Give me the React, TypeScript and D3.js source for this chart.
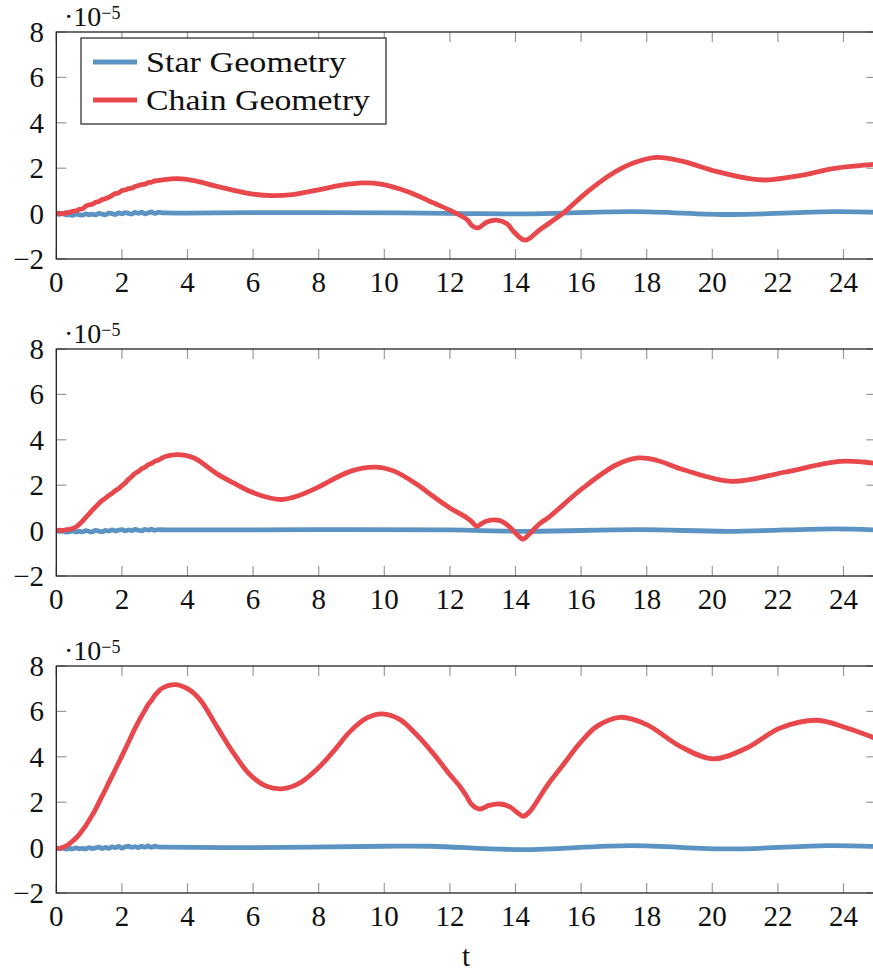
import React from "react";
import * as d3 from "d3";

// ---------- data (values in units of 1e-5) ----------
const xTicks = [0, 2, 4, 6, 8, 10, 12, 14, 16, 18, 20, 22, 24];
const yTicks = [-2, 0, 2, 4, 6, 8];
const seriesNames = ["Star Geometry", "Chain Geometry"];

// Panel 1
const star1: [number, number][] = [
  [0, 0], [0.1, -0.03], [0.2, 0.01], [0.3, -0.06], [0.4, -0.04], [0.5, -0.08], [0.6, -0.02], [0.7, -0.05],
  [0.8, -0.07], [0.9, -0.01], [1.0, -0.05], [1.1, -0.02], [1.2, -0.06], [1.3, 0.01], [1.4, -0.03], [1.5, -0.05],
  [1.6, 0.02], [1.7, 0.0], [1.8, -0.04], [1.9, 0.03], [2.0, -0.01], [2.1, 0.04], [2.2, 0.01], [2.3, -0.02],
  [2.4, 0.05], [2.5, 0.01], [2.6, 0.06], [2.7, -0.01], [2.8, 0.03], [2.9, 0.07], [3.0, 0.01], [3.1, 0.05],
  [3.3, 0.03], [6.0, 0.04], [10.5, 0.03], [12.5, 0.0], [14.3, -0.01], [17.6, 0.09], [20.6, -0.04],
  [23.7, 0.09], [25, 0.06],
];
const chain1: [number, number][] = [
  [0, 0], [0.1, 0.02], [0.2, -0.01], [0.3, 0.04], [0.4, 0.05], [0.5, 0.1], [0.6, 0.12], [0.7, 0.19],
  [0.8, 0.21], [0.9, 0.33], [1.0, 0.39], [1.1, 0.41], [1.2, 0.5], [1.3, 0.53], [1.4, 0.62], [1.5, 0.66],
  [1.6, 0.72], [1.7, 0.8], [1.8, 0.88], [1.9, 0.91], [2.0, 1.02], [2.1, 1.04], [2.2, 1.1], [2.3, 1.12],
  [2.4, 1.19], [2.5, 1.24], [2.6, 1.28], [2.7, 1.3], [2.8, 1.37], [2.9, 1.38], [3.0, 1.44], [3.1, 1.45],
  [3.3, 1.5], [3.7, 1.54], [4.2, 1.45], [4.9, 1.2], [5.9, 0.88], [6.6, 0.79], [7.2, 0.84], [7.94, 1.03],
  [8.7, 1.25], [9.36, 1.35], [9.9, 1.3], [10.48, 1.08], [11.0, 0.8], [11.5, 0.47], [12.0, 0.15],
  [12.52, -0.26], [12.67, -0.53], [12.87, -0.63], [13.12, -0.38], [13.43, -0.29], [13.73, -0.44],
  [13.98, -0.85], [14.29, -1.17], [14.75, -0.7], [15.1, -0.35], [15.46, 0.03], [16.17, 0.94],
  [16.98, 1.79], [17.59, 2.23], [18.3, 2.48], [19.1, 2.3], [20.12, 1.86], [21.13, 1.54], [21.64, 1.48],
  [22.66, 1.67], [23.68, 1.98], [24.4, 2.1], [25, 2.18],
];

// Panel 2
const star2: [number, number][] = [
  [0, 0], [0.1, -0.04], [0.2, -0.02], [0.3, -0.07], [0.4, -0.05], [0.5, -0.02], [0.6, -0.06], [0.7, -0.03],
  [0.8, -0.06], [0.9, 0.0], [1.0, -0.04], [1.1, -0.05], [1.2, 0.01], [1.3, -0.03], [1.4, -0.05], [1.5, 0.01],
  [1.6, -0.02], [1.7, 0.03], [1.8, -0.02], [1.9, 0.02], [2.0, 0.04], [2.1, -0.01], [2.2, 0.03], [2.3, 0.0],
  [2.4, 0.05], [2.5, 0.02], [2.6, -0.01], [2.7, 0.05], [2.8, 0.02], [2.9, 0.06], [3.0, 0.01], [3.1, 0.04],
  [3.3, 0.03], [8.0, 0.04], [12.0, 0.03], [14.2, -0.03], [17.8, 0.04], [20.5, -0.03], [23.7, 0.08],
  [25, 0.03],
];
const chain2: [number, number][] = [
  [0, 0], [0.1, 0.02], [0.2, 0.01], [0.3, 0.04], [0.4, 0.05], [0.5, 0.09], [0.6, 0.16], [0.7, 0.28],
  [0.8, 0.42], [0.9, 0.58], [1.0, 0.74], [1.1, 0.9], [1.2, 1.05], [1.3, 1.2], [1.4, 1.33], [1.5, 1.43],
  [1.6, 1.55], [1.7, 1.64], [1.8, 1.76], [1.9, 1.85], [2.0, 1.98], [2.1, 2.1], [2.2, 2.26], [2.3, 2.38],
  [2.4, 2.52], [2.5, 2.6], [2.6, 2.72], [2.7, 2.79], [2.8, 2.9], [2.9, 2.96], [3.0, 3.05], [3.1, 3.1],
  [3.3, 3.25], [3.7, 3.35], [4.2, 3.2], [4.89, 2.51], [5.4, 2.1], [5.9, 1.73], [6.4, 1.48], [6.88, 1.37],
  [7.4, 1.55], [7.94, 1.88], [8.96, 2.61], [9.72, 2.8], [10.3, 2.62], [11.0, 2.03], [11.5, 1.5],
  [12.0, 1.0], [12.52, 0.56], [12.65, 0.42], [12.82, 0.19], [12.97, 0.31], [13.1, 0.41], [13.5, 0.45],
  [13.8, 0.19], [14.05, -0.18], [14.23, -0.37], [14.4, -0.18], [14.7, 0.26], [15.05, 0.63],
  [16.06, 1.88], [17.08, 2.9], [17.75, 3.2], [18.3, 3.1], [19.1, 2.69], [20.6, 2.17], [22.2, 2.57],
  [23.9, 3.05], [25, 2.95],
];

// Panel 3
const star3: [number, number][] = [
  [0, 0], [0.1, -0.05], [0.2, -0.02], [0.3, -0.07], [0.4, -0.03], [0.5, -0.06], [0.6, -0.01], [0.7, -0.05],
  [0.8, -0.03], [0.9, -0.06], [1.0, 0.0], [1.1, -0.04], [1.2, -0.01], [1.3, 0.02], [1.4, -0.04], [1.5, 0.01],
  [1.6, -0.03], [1.7, 0.03], [1.8, 0.0], [1.9, 0.05], [2.0, -0.02], [2.1, 0.03], [2.2, 0.06], [2.3, 0.01],
  [2.4, 0.04], [2.5, 0.0], [2.6, 0.06], [2.7, 0.02], [2.8, 0.07], [2.9, 0.01], [3.0, 0.06], [3.1, 0.03],
  [3.3, 0.02], [5.9, 0.0], [10.0, 0.06], [11.4, 0.06], [14.2, -0.09], [17.5, 0.09], [20.5, -0.06],
  [23.5, 0.09], [25, 0.05],
];
const chain3: [number, number][] = [
  [0, -0.02], [0.1, -0.03], [0.2, 0.01], [0.3, 0.07], [0.4, 0.17], [0.5, 0.29], [0.6, 0.42], [0.7, 0.58],
  [0.8, 0.77], [0.9, 0.97], [1.0, 1.2], [1.1, 1.44], [1.2, 1.7], [1.3, 1.99], [1.4, 2.28], [1.5, 2.56],
  [1.6, 2.86], [1.7, 3.15], [1.8, 3.45], [1.9, 3.74], [2.0, 4.04], [2.1, 4.33], [2.2, 4.64], [2.3, 4.95],
  [2.4, 5.25], [2.5, 5.53], [2.6, 5.8], [2.7, 6.04], [2.8, 6.3], [2.9, 6.48], [3.0, 6.7], [3.1, 6.86],
  [3.2, 7.0], [3.62, 7.18], [4.0, 7.0], [4.38, 6.52], [4.89, 5.34], [5.4, 4.17], [5.9, 3.22], [6.41, 2.7],
  [6.93, 2.6], [7.43, 2.85], [7.94, 3.44], [8.45, 4.24], [8.96, 5.12], [9.47, 5.71], [9.93, 5.89],
  [10.48, 5.64], [10.98, 4.98], [11.49, 4.15], [11.95, 3.3], [12.3, 2.7], [12.51, 2.26], [12.67, 1.89],
  [12.92, 1.7], [13.17, 1.85], [13.53, 1.92], [13.83, 1.79], [14.05, 1.55], [14.24, 1.38], [14.44, 1.6],
  [14.95, 2.7], [15.46, 3.66], [15.97, 4.61], [16.48, 5.34], [17.19, 5.74], [18.0, 5.42], [19.02, 4.46],
  [20.03, 3.91], [21.05, 4.39], [22.07, 5.27], [23.19, 5.61], [24.1, 5.27], [25, 4.8],
];

const panels = [
  { star: star1, chain: chain1 },
  { star: star2, chain: chain2 },
  { star: star3, chain: chain3 },
];

// ---------- layout ----------
const W = 873;
const H = 973;
const PX0 = 56.3;
const PX1 = 876.3;
const PH = 227;
const panelTops = [32, 349, 666];
const BLUE = "#5b93c3";
const RED = "#e8484c";
const FONT = "'Liberation Serif', 'Times New Roman', serif";
const FS = 29;
const TICK = 10;

export default function App() {
  const x = d3.scaleLinear().domain([0, 25]).range([PX0, PX1]);
  return (
    <svg width={W} height={H} style={{ display: "block", position: "absolute", left: 0, top: 0 }} fontFamily={FONT}>
      <rect x={0} y={0} width={W} height={H} fill="#fff" />
      {panels.map((p, i) => {
        const top = panelTops[i];
        const y = d3.scaleLinear().domain([-2, 8]).range([top + PH, top]);
        const line = d3
          .line<[number, number]>()
          .x((d) => x(d[0]))
          .y((d) => y(d[1]))
          .curve(d3.curveCatmullRom.alpha(0.5));
        const clipId = `clip${i}`;
        return (
          <g key={i}>
            <defs>
              <clipPath id={clipId}>
                <rect x={PX0} y={top} width={PX1 - PX0} height={PH} />
              </clipPath>
            </defs>
            {/* ticks */}
            {xTicks.map((t) => (
              <g key={"x" + t}>
                <line x1={x(t)} x2={x(t)} y1={top} y2={top + TICK} stroke="#999" strokeWidth={1.2} />
                <line x1={x(t)} x2={x(t)} y1={top + PH} y2={top + PH - TICK} stroke="#999" strokeWidth={1.2} />
                <text x={x(t)} y={top + PH + 33} textAnchor="middle" fontSize={FS} fill="#111">
                  {t}
                </text>
              </g>
            ))}
            {yTicks.map((t) => (
              <g key={"y" + t}>
                <line x1={PX0} x2={PX0 + TICK} y1={y(t)} y2={y(t)} stroke="#999" strokeWidth={1.2} />
                <line x1={PX1} x2={PX1 - TICK} y1={y(t)} y2={y(t)} stroke="#999" strokeWidth={1.2} />
                <text x={44} y={y(t) + 10} textAnchor="end" fontSize={FS} fill="#111">
                  {t < 0 ? "\u2212" + Math.abs(t) : t}
                </text>
              </g>
            ))}
            {/* series */}
            <g clipPath={`url(#${clipId})`}>
              <path d={line(p.star) || ""} fill="none" stroke={BLUE} strokeWidth={4.8} strokeLinejoin="round" />
              <path d={line(p.chain) || ""} fill="none" stroke={RED} strokeWidth={4.8} strokeLinejoin="round" />
            </g>
            {/* frame */}
            <rect x={PX0} y={top} width={PX1 - PX0} height={PH} fill="none" stroke="#222" strokeWidth={1.3} />
            {/* exponent */}
            <text x={64} y={top - 6} fontSize={28} fill="#111">
              <tspan>{"\u00b710"}</tspan>
              <tspan dy={-7} fontSize={18}>{"\u22125"}</tspan>
            </text>
            {i === 0 && (
              <g>
                <rect x={81} y={38} width={305} height={86} fill="#fff" stroke="#222" strokeWidth={1.2} />
                <line x1={93} x2={137} y1={62} y2={62} stroke={BLUE} strokeWidth={4.8} />
                <line x1={93} x2={137} y1={100} y2={100} stroke={RED} strokeWidth={4.8} />
                <text x={146} y={72} fontSize={FS} fill="#111" textLength={200} lengthAdjust="spacingAndGlyphs">
                  {seriesNames[0]}
                </text>
                <text x={146} y={110} fontSize={FS} fill="#111" textLength={224} lengthAdjust="spacingAndGlyphs">
                  {seriesNames[1]}
                </text>
              </g>
            )}
          </g>
        );
      })}
      <text x={466} y={966} textAnchor="middle" fontSize={FS} fill="#111">
        t
      </text>
    </svg>
  );
}
